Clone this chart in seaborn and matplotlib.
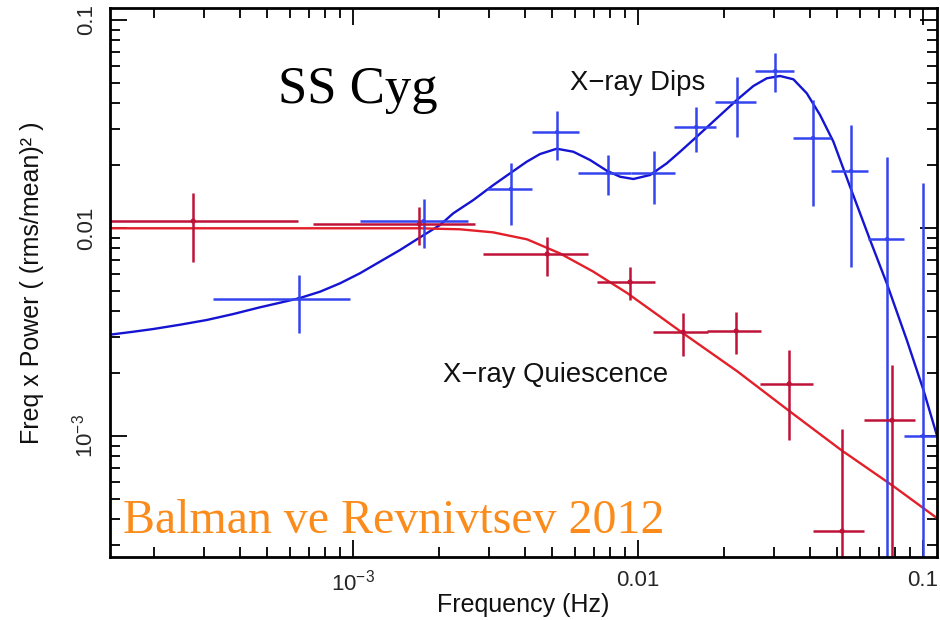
import numpy as np
import pandas as pd
import matplotlib
matplotlib.use("Agg")
import matplotlib.pyplot as plt
import seaborn as sns
from matplotlib.ticker import FixedLocator, FixedFormatter, LogLocator, NullFormatter

# ---------------- data ----------------
# X-ray Dips (blue) data points
dips_freq = np.array([6.47e-4, 1.77e-3, 3.58e-3, 5.20e-3, 7.86e-3, 0.0114, 0.0160,
                      0.0222, 0.0303, 0.0411, 0.0559, 0.0748, 0.100])
dips_freq_lo = np.array([3.22e-4, 1.06e-3, 2.95e-3, 4.25e-3, 6.15e-3, 9.44e-3, 0.0134,
                         0.0186, 0.0257, 0.0350, 0.0475, 0.0641, 0.0857])
dips_freq_hi = np.array([9.76e-4, 2.54e-3, 4.25e-3, 6.21e-3, 9.44e-3, 0.0135, 0.0188,
                         0.0259, 0.0352, 0.0475, 0.0641, 0.0857, 0.112])
dips_pow = np.array([4.57e-3, 0.0108, 0.0154, 0.0289, 0.0184, 0.0183, 0.0306,
                     0.0404, 0.0569, 0.0271, 0.0188, 8.85e-3, 1.0e-3])
dips_pow_lo = np.array([3.13e-3, 8.0e-3, 0.0103, 0.0212, 0.0144, 0.0130, 0.0232,
                        0.0274, 0.0451, 0.0128, 6.49e-3, 1.0e-4, 1.0e-4])
dips_pow_hi = np.array([5.94e-3, 0.0138, 0.0205, 0.0365, 0.0224, 0.0234, 0.0382,
                        0.0532, 0.0694, 0.0412, 0.0313, 0.0219, 0.0164])

# X-ray Quiescence (red) data points
quie_freq = np.array([2.75e-4, 1.71e-3, 4.8e-3, 9.37e-3, 0.0144, 0.0221, 0.0339, 0.052, 0.0778])
quie_freq_lo = np.array([1.40e-4, 7.24e-4, 2.86e-3, 7.18e-3, 0.0113, 0.01745, 0.0268, 0.0411, 0.0621])
quie_freq_hi = np.array([6.41e-4, 2.68e-3, 6.68e-3, 0.01148, 0.0176, 0.027, 0.0411, 0.0621, 0.0938])
quie_pow = np.array([0.0108, 0.01045, 7.5e-3, 5.5e-3, 3.16e-3, 3.2e-3, 1.78e-3, 3.49e-4, 1.19e-3])
quie_pow_lo = np.array([6.87e-3, 8.28e-3, 5.87e-3, 4.51e-3, 2.43e-3, 2.48e-3, 9.57e-4, 1.0e-4, 1.0e-4])
quie_pow_hi = np.array([0.0147, 0.0126, 9.05e-3, 6.49e-3, 3.9e-3, 3.94e-3, 2.59e-3, 1.08e-3, 2.19e-3])

# Model curves
dips_model_freq = [1.404e-4, 1.695e-4, 1.993e-4, 2.472e-4, 3.066e-4, 3.802e-4, 4.717e-4,
                   5.544e-4, 6.463e-4, 7.659e-4, 9.00e-4, 1.058e-3, 1.243e-3, 1.462e-3,
                   1.719e-3, 2.020e-3, 2.248e-3, 2.643e-3, 3.107e-3, 3.556e-3, 4.069e-3,
                   4.531e-3, 5.185e-3, 5.929e-3, 6.785e-3, 7.766e-3, 8.646e-3, 9.63e-3,
                   0.01102, 0.01261, 0.01404, 0.01607, 0.01889, 0.02220, 0.02539, 0.02829,
                   0.03150, 0.03507, 0.03908, 0.04351, 0.04845, 0.05544, 0.06010, 0.06516,
                   0.07457, 0.08767, 0.1003, 0.1117]
dips_model_pow = [3.07e-3, 3.172e-3, 3.269e-3, 3.428e-3, 3.611e-3, 3.859e-3, 4.157e-3,
                  4.373e-3, 4.592e-3, 4.94e-3, 5.42e-3, 6.06e-3, 6.89e-3, 7.84e-3,
                  9.02e-3, 0.01034, 0.01177, 0.01363, 0.01609, 0.01832, 0.02083,
                  0.02268, 0.02405, 0.02326, 0.02123, 0.01886, 0.01764, 0.0172,
                  0.01798, 0.02046, 0.02326, 0.02748, 0.03368, 0.04124, 0.04817, 0.05245,
                  0.05380, 0.05187, 0.04442, 0.03493, 0.02601, 0.01579, 0.01177, 8.76e-3,
                  5.42e-3, 2.893e-3, 1.664e-3, 1.011e-3]
quie_model_freq = [1.404e-4, 6.52e-4, 1.72e-3, 2.02e-3, 2.37e-3, 3.10e-3, 4.08e-3, 5.32e-3,
                   6.95e-3, 9.15e-3, 0.01194, 0.01438, 0.02225, 0.0339, 0.0516, 0.0785, 0.1119]
quie_model_pow = [9.97e-3, 9.97e-3, 9.97e-3, 9.91e-3, 9.86e-3, 9.53e-3, 8.82e-3, 7.55e-3,
                  6.18e-3, 4.87e-3, 3.75e-3, 3.12e-3, 2.05e-3, 1.32e-3, 8.56e-4, 5.75e-4, 4.03e-4]

xtick_vals = [1e-3, 1e-2, 1e-1]
xtick_labels = [r"$10^{-3}$", "0.01", "0.1"]
ytick_vals = [1e-3, 1e-2, 1e-1]
ytick_labels = [r"$10^{-3}$", "0.01", "0.1"]

# ---------------- style ----------------
sns.set_theme(style="white")
plt.rcParams['font.family'] = ['Liberation Sans', 'DejaVu Sans']
plt.rcParams['mathtext.fontset'] = 'custom'
plt.rcParams['mathtext.rm'] = 'Liberation Sans'
plt.rcParams['mathtext.it'] = 'Liberation Sans:italic'
plt.rcParams['axes.edgecolor'] = 'black'

W, H = 940, 620
fig = plt.figure(figsize=(9.4, 6.2), dpi=100)
L, R, T, B = 110, 937, 8, 557
ax = fig.add_axes([L / W, 1 - B / H, (R - L) / W, (B - T) / H])
ax.set_xscale('log')
ax.set_yscale('log')
ax.set_xlim(1.404e-4, 0.1119)
ax.set_ylim(2.62e-4, 0.1142)

BLUE_LINE = '#1414d2'
BLUE_ERR = '#3444ee'
RED_LINE = '#e3202a'
RED_ERR = '#bf1238'

# model curves via seaborn
sns.lineplot(x=dips_model_freq, y=dips_model_pow, ax=ax, color=BLUE_LINE, lw=1.7,
             estimator=None, sort=False)
sns.lineplot(x=quie_model_freq, y=quie_model_pow, ax=ax, color=RED_LINE, lw=1.7,
             estimator=None, sort=False)

# error-bar crosses
ax.errorbar(dips_freq, dips_pow,
            xerr=[dips_freq - dips_freq_lo, dips_freq_hi - dips_freq],
            yerr=[dips_pow - dips_pow_lo, dips_pow_hi - dips_pow],
            fmt='none', ecolor=BLUE_ERR, elinewidth=1.8, capsize=0)
ax.errorbar(quie_freq, quie_pow,
            xerr=[quie_freq - quie_freq_lo, quie_freq_hi - quie_freq],
            yerr=[quie_pow - quie_pow_lo, quie_pow_hi - quie_pow],
            fmt='none', ecolor=RED_ERR, elinewidth=1.8, capsize=0)
sns.scatterplot(x=quie_freq, y=quie_pow, ax=ax, color=RED_ERR, s=14, edgecolor='none')
sns.scatterplot(x=dips_freq, y=dips_pow, ax=ax, color=BLUE_ERR, s=10, edgecolor='none')

# ticks
for axis, vals, labs in ((ax.xaxis, xtick_vals, xtick_labels), (ax.yaxis, ytick_vals, ytick_labels)):
    axis.set_major_locator(FixedLocator(vals))
    axis.set_major_formatter(FixedFormatter(labs))
    axis.set_minor_locator(LogLocator(base=10, subs=np.arange(2, 10), numticks=20))
    axis.set_minor_formatter(NullFormatter())
ax.tick_params(which='both', direction='in', top=True, right=True, bottom=True, left=True,
               color='black', width=1.3)
ax.tick_params(which='major', length=12, labelsize=16, pad=9)
ax.tick_params(which='minor', length=7)
for lab in ax.get_yticklabels():
    lab.set_rotation(90)
    lab.set_va('center')
for s in ax.spines.values():
    s.set_linewidth(2)
    s.set_color('black')

ax.set_xlabel('Frequency (Hz)', fontsize=18, color='#111111')
ax.xaxis.set_label_coords(0.5, -(593 - B) / (B - T))
ax.set_ylabel('Freq x Power ( (rms/mean)² )', fontsize=18, color='#111111')
ax.yaxis.set_label_coords(-(L - 44) / (R - L), 0.5)

# annotations
fig.text(278 / W, 1 - 103 / H, 'SS Cyg', family=['Liberation Serif', 'DejaVu Serif'],
         fontsize=38, color='black', va='baseline', ha='left')
fig.text(570 / W, 1 - 90 / H, 'X\u2212ray Dips', fontsize=19.8, color='#111111',
         va='baseline', ha='left')
fig.text(443 / W, 1 - 382 / H, 'X\u2212ray Quiescence', fontsize=19.8, color='#111111',
         va='baseline', ha='left')
fig.text(123 / W, 1 - 533 / H, 'Balman ve Revnivtsev 2012',
         family=['Liberation Serif', 'DejaVu Serif'], fontsize=34.5, color='#fb8c1c',
         va='baseline', ha='left')

fig.savefig('out.png', dpi=100)
